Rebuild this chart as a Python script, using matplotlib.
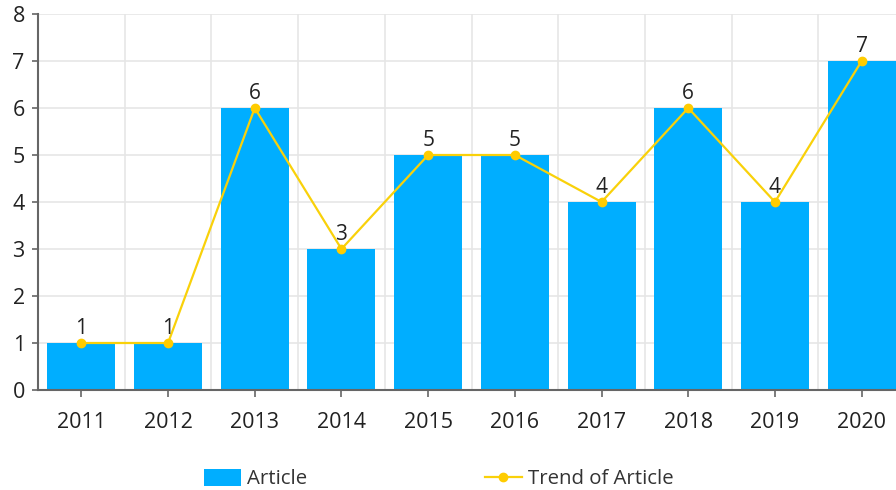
import matplotlib.pyplot as plt

plt.rcParams['font.family'] = ['Open Sans', 'DejaVu Sans']

# data
years = ['2011', '2012', '2013', '2014', '2015', '2016', '2017', '2018', '2019', '2020']
articles = [1, 1, 6, 3, 5, 5, 4, 6, 4, 7]

bar_color = '#00AEFF'
line_color = '#F9D10A'
axis_color = '#666666'
grid_color = '#E6E6E6'

fig = plt.figure(figsize=(8.96, 4.9), dpi=100)
ax = fig.add_axes([38 / 896, 1 - 390 / 490, 858 / 896, 376 / 490])

x = list(range(len(years)))
bars = ax.bar(x, articles, width=0.785, color=bar_color, zorder=2, label='Article')
trend, = ax.plot(x, articles, color=line_color, lw=1.6, marker='o', markersize=6,
                 markerfacecolor='#FFCC00', markeredgecolor='#FFCC00', zorder=3,
                 label='Trend of Article')

for xi, v in zip(x, articles):
    ax.annotate(str(v), (xi, v), xytext=(0, 3), textcoords='offset points',
                ha='center', va='bottom', fontsize=15, color='#222222', zorder=4)

ax.set_xlim(-0.5, -0.5 + 858 / 86.7)
ax.set_ylim(0, 8)
ax.set_yticks(range(0, 9))
ax.set_xticks(x)
ax.set_xticklabels(years)

# grid: horizontal at integers, vertical at category boundaries
for yv in range(1, 9):
    ax.axhline(yv, color=grid_color, lw=1.2, zorder=0)
for b in range(len(years)):
    ax.axvline(b + 0.5, color=grid_color, lw=1.2, zorder=0)

for side in ['top', 'right']:
    ax.spines[side].set_visible(False)
for side in ['left', 'bottom']:
    ax.spines[side].set_color(axis_color)
    ax.spines[side].set_linewidth(1.5)

ax.tick_params(axis='y', colors=axis_color, labelcolor='#222222', labelsize=15.5,
               length=4.5, width=1.2, pad=5)
ax.tick_params(axis='x', colors=axis_color, labelcolor='#222222', labelsize=15.5,
               length=5, width=1.2, pad=11)

fig.legend([bars, trend], ['Article', 'Trend of Article'],
           loc='center', bbox_to_anchor=(439 / 896, 1 - 479 / 490), ncol=2,
           frameon=False, fontsize=14.7, handlelength=1.8, handleheight=0.95,
           handletextpad=0.3, columnspacing=8.7, labelcolor='#333333')

fig.savefig('out.png', dpi=100)
